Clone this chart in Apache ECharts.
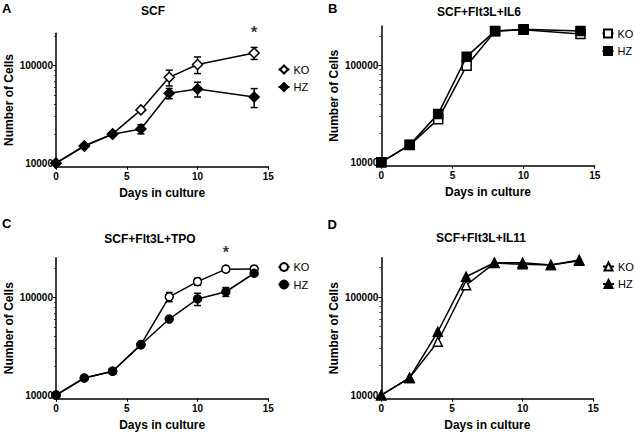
<!DOCTYPE html>
<html><head><meta charset="utf-8">
<script src="https://cdn.jsdelivr.net/npm/echarts@6/dist/echarts.min.js"></script>
<style>html,body{margin:0;padding:0;background:#fff}#c{width:635px;height:432px}</style>
</head><body><div id="c"></div>
<script>
// ---- data ----
const daysAB = [0, 2, 4, 6, 8, 10, 14];
const daysCD = [0, 2, 4, 6, 8, 10, 12, 14];
// Panel A: SCF
const aKO   = [10000, 15000, 20000, 35200, 76000, 103000, 135000];
const aKOsd = [null, null, null, null, 14000, 20000, 19000];
const aHZ   = [10000, 15000, 19800, 22400, 52100, 57700, 47700];
const aHZsd = [null, null, null, 2400, 6300, 10000, 10500];
const aSigDays = [14];
// Panel B: SCF+Flt3L+IL6
const bKO = [10000, 15000, 27800, 99000, 224000, 233000, 210000];
const bHZ = [10000, 15100, 31500, 122600, 226000, 235000, 226000];
// Panel C: SCF+Flt3L+TPO
const cKO   = [10000, 15000, 17600, 33000, 102000, 146000, 196000, 197000];
const cKOsd = [null, null, null, null, 11000, 12000, null, null];
const cHZ   = [10000, 15000, 17600, 32900, 60400, 97000, 115000, 178000];
const cHZsd = [null, null, null, null, null, 14000, 12000, null];
const cSigDays = [12];
// Panel D: SCF+Flt3L+IL11
const dKO = [10000, 15000, 35000, 132000, 222000, 216000, 212000, 235000];
const dHZ = [10000, 15000, 44300, 161000, 224000, 224000, 212000, 239000];

const titles = ['SCF', 'SCF+Flt3L+IL6', 'SCF+Flt3L+TPO', 'SCF+Flt3L+IL11'];
const letters = ['A', 'B', 'C', 'D'];
const xTicks = [0, 5, 10, 15];
const yMajor = [10000, 100000];
const yMinor = [20000, 30000, 40000, 50000, 60000, 70000, 80000, 90000, 200000];

// ---- layout ----
const FF = '"Liberation Sans", Arial, Helvetica, sans-serif';
const grids = [
  {left: 56, top: 33.3, width: 212.3, height: 133.4},
  {left: 381.3, top: 26, width: 213.4, height: 139.7},
  {left: 56, top: 257.7, width: 212.3, height: 141},
  {left: 381.3, top: 257.7, width: 212, height: 141}
];
const yMax = [215000, 254000, 257000, 252000];
const yMin = 9200;
const symbols = ['diamond', 'rect', 'circle', 'triangle'];
const symSizes = [10, 9, 8, 9];
const legendPos = [
  {left: 277.5, top: 64}, {left: 601.5, top: 28}, {left: 277.5, top: 261.5}, {left: 602, top: 261}
];
const titlePos = [[153, 11], [479, 11.5], [150, 239], [481, 238]];
const letterPos = [[2, 8.5], [328, 8.5], [2, 223], [327.5, 224]];

const panels = [
  {days: daysAB, ko: aKO, hz: aHZ, koSd: aKOsd, hzSd: aHZsd, sig: aSigDays, sigOff: -20},
  {days: daysAB, ko: bKO, hz: bHZ},
  {days: daysCD, ko: cKO, hz: cHZ, koSd: cKOsd, hzSd: cHZsd, sig: cSigDays, sigOff: -17},
  {days: daysCD, ko: dKO, hz: dHZ}
];

const xAxes = [], yAxes = [], series = [], legends = [], graphics = [];

function errSeries(gi, days, vals, sds) {
  const data = [];
  days.forEach((d, i) => { if (sds && sds[i] != null) data.push([d, vals[i] - sds[i], vals[i] + sds[i]]); });
  return {
    type: 'custom', xAxisIndex: gi, yAxisIndex: gi * 2, data, z: 3, silent: true,
    encode: {x: 0, y: [1, 2]},
    renderItem(params, api) {
      const x = api.value(0);
      const lo = api.coord([x, api.value(1)]);
      const hi = api.coord([x, api.value(2)]);
      const w = 3.5, st = {stroke: '#000', lineWidth: 1.5};
      return {type: 'group', children: [
        {type: 'line', shape: {x1: lo[0], y1: lo[1], x2: hi[0], y2: hi[1]}, style: st},
        {type: 'line', shape: {x1: lo[0] - w, y1: lo[1], x2: lo[0] + w, y2: lo[1]}, style: st},
        {type: 'line', shape: {x1: hi[0] - w, y1: hi[1], x2: hi[0] + w, y2: hi[1]}, style: st}
      ]};
    }
  };
}

panels.forEach((p, gi) => {
  xAxes.push({
    type: 'value', gridIndex: gi, min: 0, max: 15, interval: 5,
    axisLine: {show: true, onZero: false, lineStyle: {color: '#000', width: 1.5}},
    axisTick: {show: true, length: 3, lineStyle: {color: '#000', width: 1}},
    axisLabel: {fontSize: 10, fontWeight: 'bold', color: '#000', margin: 5, fontFamily: FF},
    splitLine: {show: false},
    name: 'Days in culture', nameLocation: 'middle', nameGap: 20,
    nameTextStyle: {fontSize: 12, fontWeight: 'bold', color: '#000', fontFamily: FF}
  });
  yAxes.push({
    type: 'log', logBase: 10, gridIndex: gi, position: 'left', min: yMin, max: yMax[gi],
    axisLine: {show: true, lineStyle: {color: '#000', width: 1.5}},
    axisTick: {show: true, length: 3, lineStyle: {color: '#000', width: 1}, customValues: yMajor},
    axisLabel: {fontSize: 10, fontWeight: 'bold', color: '#000', margin: 3, fontFamily: FF,
      customValues: yMajor, formatter: v => String(Math.round(v))},
    splitLine: {show: false}, minorTick: {show: false},
    name: 'Number of Cells', nameLocation: 'middle', nameGap: 41,
    nameTextStyle: {fontSize: 12, fontWeight: 'bold', color: '#000', fontFamily: FF}
  });
  yAxes.push({
    type: 'log', logBase: 10, gridIndex: gi, position: 'left', offset: 0, min: yMin, max: yMax[gi],
    axisLine: {show: false},
    axisTick: {show: true, length: 2, lineStyle: {color: '#000', width: 0.7}, customValues: yMinor},
    axisLabel: {show: false}, splitLine: {show: false}
  });
  const L = letters[gi];
  const mk = (name, vals, filled) => ({
    type: 'line', name: L + '-' + name, xAxisIndex: gi, yAxisIndex: gi * 2,
    data: p.days.map((d, i) => [d, vals[i]]),
    symbol: symbols[gi], symbolSize: symSizes[gi], showSymbol: true, showAllSymbol: true,
    lineStyle: {color: '#000', width: 1.5},
    itemStyle: {color: filled ? '#000' : '#fff', borderColor: '#000', borderWidth: 1.5},
    emphasis: {disabled: true}, z: filled ? 5 : 4, clip: false
  });
  series.push(mk('KO', p.ko, false));
  series.push(mk('HZ', p.hz, true));
  if (p.koSd) series.push(errSeries(gi, p.days, p.ko, p.koSd));
  if (p.hzSd) series.push(errSeries(gi, p.days, p.hz, p.hzSd));
  if (p.sig) {
    series.push({
      type: 'scatter', xAxisIndex: gi, yAxisIndex: gi * 2, symbolSize: 0, silent: true,
      data: p.sig.map(d => [d, p.ko[p.days.indexOf(d)]]),
      label: {show: true, formatter: '*', position: 'inside', offset: [0, p.sigOff],
        fontSize: 16, fontWeight: 'bold', color: '#000', fontFamily: FF}
    });
  }
  legends.push({
    orient: 'vertical', left: legendPos[gi].left, top: legendPos[gi].top,
    data: [L + '-KO', L + '-HZ'], formatter: n => n.split('-')[1],
    itemWidth: 11, itemHeight: 10, itemGap: 6.5, selectedMode: false, padding: 0,
    textStyle: {fontSize: 11, color: '#000', fontFamily: FF, padding: [0, 0, 0, -1]}
  });
  graphics.push({type: 'text', x: titlePos[gi][0], y: titlePos[gi][1],
    style: {text: titles[gi], fill: '#000', font: 'bold 12px ' + FF, align: 'center', verticalAlign: 'middle'}});
  graphics.push({type: 'text', x: letterPos[gi][0], y: letterPos[gi][1],
    style: {text: L, fill: '#000', font: 'bold 13px ' + FF, align: 'left', verticalAlign: 'middle'}});
});

const chart = echarts.init(document.getElementById('c'), null, {renderer: 'svg'});
chart.setOption({
  animation: false,
  backgroundColor: '#fff',
  textStyle: {fontFamily: FF},
  grid: grids.map(g => Object.assign({containLabel: false}, g)),
  xAxis: xAxes, yAxis: yAxes, series, legend: legends, graphic: graphics
});
</script></body></html>
